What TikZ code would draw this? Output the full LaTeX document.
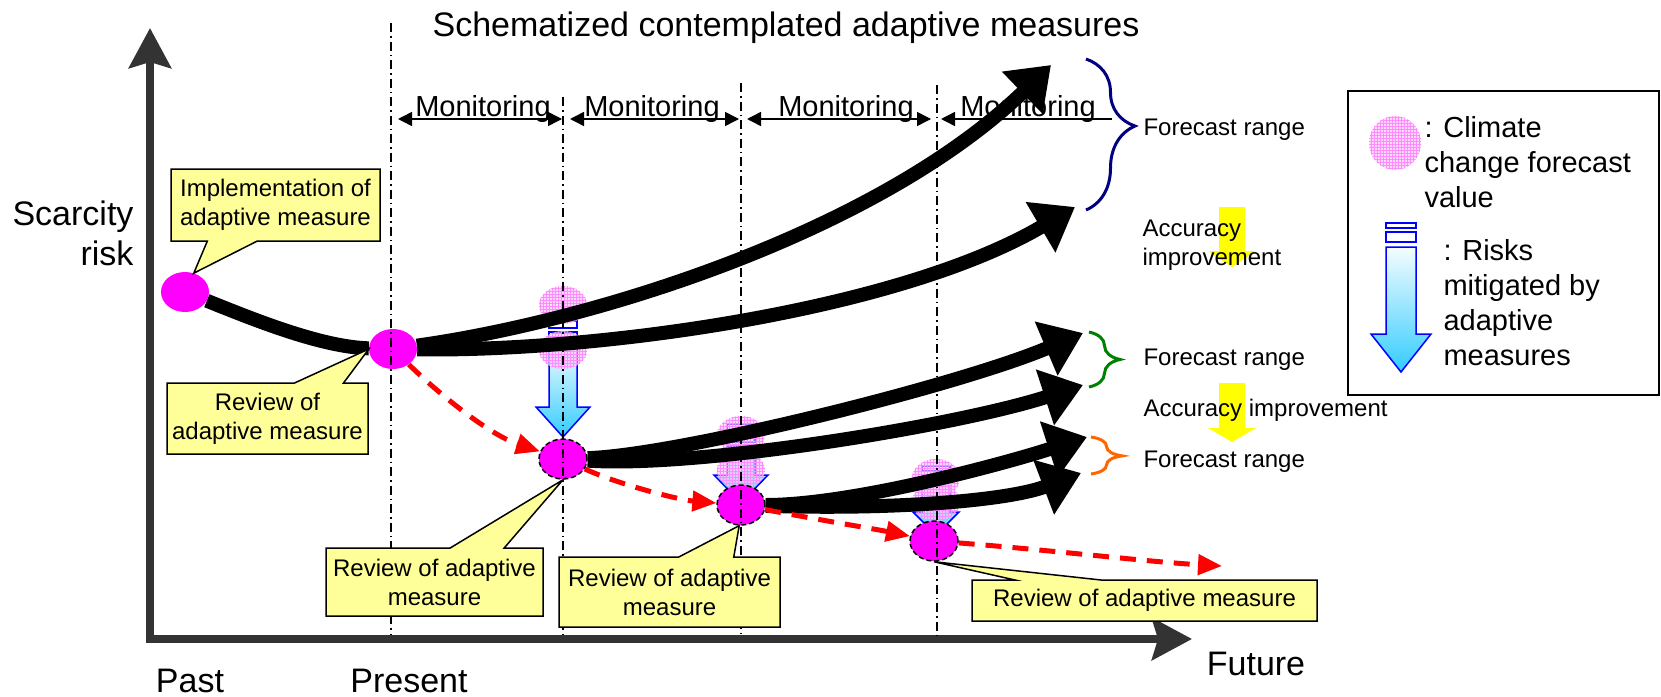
\documentclass[tikz,border=0pt]{standalone}
\usepackage{fontspec}
\setmainfont{Liberation Sans}
\usetikzlibrary{arrows.meta,shapes.geometric,shapes.callouts,decorations.pathreplacing,backgrounds,patterns}

\definecolor{callyellow}{HTML}{FFFF99}
\definecolor{accyellow}{HTML}{FFFF00}
\definecolor{axisgray}{HTML}{333333}
\definecolor{riskblue}{HTML}{0000FF}
\definecolor{riskcyan}{HTML}{33CCFF}
\definecolor{measurepink}{HTML}{FF00FF}
\definecolor{forecastpink}{HTML}{FFC2FF}
\definecolor{bracenavy}{HTML}{000080}
\definecolor{bracegreen}{HTML}{008000}
\definecolor{braceorange}{HTML}{FF6600}

\tikzset{montip/.tip={Triangle[length=14pt,width=14pt]}}

\begin{document}
\begin{tikzpicture}[x=1pt,y=-1pt,
	bigtext/.style={font=\fontsize{34}{40}\selectfont},
	montext/.style={font=\fontsize{29}{35}\selectfont},
	smalltext/.style={font=\fontsize{24}{29}\selectfont},
	legtext/.style={font=\fontsize{29}{35}\selectfont, align=left},
	axisline/.style={line width=8, draw=axisgray, {Stealth[length=40pt,width=42pt,inset=6pt]}-{Stealth[length=40pt,width=42pt,inset=6pt]}},
	period/.style={line width=1.2, dash pattern=on 9pt off 4pt on 1.5pt off 4pt},
	monline/.style={line width=1.5},
	trend/.style={line width=14, -{Triangle[length=40pt,width=56pt]}},
	reviewpath/.style={line width=5, red, dash pattern=on 16pt off 11pt, -{Triangle[length=24pt,width=20pt]}},
	measure/.style={ellipse, fill=measurepink, minimum width=48, minimum height=40, inner sep=0},
	review/.style={measure, draw=black, dash pattern=on 5pt off 3pt, line width=1.5},
	forecast/.style={ellipse, fill=forecastpink, fill opacity=0.6, postaction={pattern=grid, pattern color=measurepink!45}, minimum width=48, minimum height=38, inner sep=0},
	risk/.style={draw=riskblue, line width=1.5},
	callbox/.style={rectangle callout, draw=black, line width=1.5, fill=callyellow, smalltext, align=center, inner sep=0},
	rangebrace/.style={line width=3, decorate},
	]
	\useasboundingbox (0,0) rectangle (1661,696);
	%\draw[help lines] (0,0) grid[step=50] (1661,696);

	% measures
	\node[measure] (A) at (185,292) {};
	\node[measure] (B) at (393,349) {};
	\node[review] (C) at (563,459) {};
	\node[review] (D) at (741,505) {};
	\node[review] (E) at (934,541) {};

	\coordinate (origin) at (150,639);
	\coordinate (ytop) at (150,28);
	\coordinate (xend) at (1192,639);
	\coordinate (b1) at (1051,65);
	\coordinate (b2) at (1075,207);
	\coordinate (c1) at (1083,333);
	\coordinate (c2) at (1083,385);
	\coordinate (d1) at (1087,437);
	\coordinate (d2) at (1081,473);
	\coordinate (fut) at (1222,566);

	\begin{scope}[on background layer]
	% axes
	\draw[axisline] (ytop) -- (origin) -- (xend);

	% monitoring periods
	\foreach \a/\b/\m in {398/562/483,570/739/652,747/931/846}{
		\draw[monline, {montip}-{montip}] (\a,119) -- (\b,119);
		\node[montext, anchor=base] at (\m,116) {Monitoring};
	}
	\draw[monline, {montip}-] (941,119) -- (1112,119);
	\node[montext, anchor=base] (mon4) at (1028,116) {Monitoring};

	% risks mitigated (blue arrows)
	\foreach \x/\sa/\sb/\ra/\rb/\st/\hy/\ty/\w/\h in {563/321/328/332/340/344/407/437/14/27,741/424/430/434/442/446/475/503/14/27,936/466/471/475/482/486/512/535/14/23,1401/223/228/232/242/247/334/372/15/30}{
		\draw[risk] (\x-\w,\sa) rectangle (\x+\w,\sb);
		\draw[risk] (\x-\w,\ra) rectangle (\x+\w,\rb);
		\draw[risk, top color=riskcyan!5, bottom color=riskcyan] (\x-\w,\st) -- (\x+\w,\st) -- (\x+\w,\hy) -- (\x+\h,\hy)
			-- (\x,\ty) -- (\x-\h,\hy) -- (\x-\w,\hy) -- cycle;
	}

	% forecast values
	\node[forecast] (fc1a) at (563,305) {};
	\node[forecast] (fc1b) at (563,350) {};
	\node[forecast] (fc2a) at (741,435) {};
	\node[forecast] (fc2b) at (741,470) {};
	\node[forecast] (fc3a) at (936,478) {};
	\node[forecast] (fc3b) at (936,502) {};
	\node[forecast, minimum width=52, minimum height=54] (legpink) at (1395,143) {};

	% scenarios
	\draw[line width=14] (A) .. controls (250,318) and (320,347) .. (B);
	\draw[trend] (B) .. controls (600,320) and (880,230) .. (b1);
	\draw[trend] (B) .. controls (600,352) and (900,310) .. (b2);
	\draw[trend] (C) .. controls (680,455) and (960,385) .. (c1);
	\draw[trend] (C) .. controls (700,468) and (960,425) .. (c2);
	\draw[trend] (D) .. controls (850,505) and (1000,465) .. (d1);
	\draw[trend] (D) .. controls (900,510) and (1010,500) .. (d2);

	\draw[reviewpath] (B) .. controls (440,395) and (490,435) .. (C);
	\draw[reviewpath] (C) .. controls (620,485) and (680,500) .. (D);
	\draw[reviewpath] (D) .. controls (820,520) and (880,530) .. (E);
	\draw[reviewpath] (E) .. controls (1050,550) and (1150,562) .. (fut);
	\end{scope}

	% time lines
	\foreach \x/\t in {391/23,563/97,741/83,937/85}
		\draw[period] (\x,\t) -- (\x,635);

	\node[bigtext, anchor=base east, align=right] (ylabel) at (137,265) {Scarcity\\risk};
	\node[bigtext, anchor=base] (past) at (190,692) {Past};
	\node[bigtext, anchor=base] (present) at (409,692) {Present};
	\node[bigtext, anchor=base] (future) at (1256,675) {Future};
	\node[bigtext, anchor=base] (title) at (786,36) {Schematized contemplated adaptive measures};

	% callouts
	\node[callbox, minimum width=209, minimum height=72, callout pointer width=50, callout absolute pointer={(A.65)}] (impl) at (275.5,205) {Implementation of\\adaptive measure};
	\node[callbox, minimum width=201, minimum height=71, callout pointer width=49, callout absolute pointer={(B.west)}] (rev1) at (267.5,418.5) {Review of\\adaptive measure};
	\node[callbox, minimum width=217, minimum height=68, callout pointer width=54, callout absolute pointer={(C.south)}] (rev2) at (434.5,582) {Review of adaptive\\measure};
	\node[callbox, minimum width=221, minimum height=70, callout pointer width=55, callout absolute pointer={(D.265)}] (rev3) at (669.5,592) {Review of adaptive\\measure};
	\node[callbox, minimum width=345, minimum height=41, callout pointer width=86, callout absolute pointer={(E.south)}] (rev4) at (1144.5,600.5) {Review of adaptive measure};

	% forecast ranges
	\draw[rangebrace, bracenavy, decoration={brace, amplitude=49pt, aspect=0.444}] (1086,59) -- (1086,210);
	\draw[rangebrace, bracegreen, decoration={brace, amplitude=31pt, aspect=0.5}] (1089,332) -- (1089,387);
	\draw[rangebrace, braceorange, decoration={brace, amplitude=31pt, aspect=0.51}] (1091,437) -- (1091,474);
	\node[smalltext, anchor=base west] (fr1) at (1140,135) {Forecast range};
	\node[smalltext, anchor=base west] (fr2) at (1140,365) {Forecast range};
	\node[smalltext, anchor=base west] (fr3) at (1140,467) {Forecast range};

	% accuracy improvement
	\fill[accyellow] (1219,207) -- (1245,207) -- (1245,251) -- (1256,251) -- (1232,267) -- (1208,251) -- (1219,251) -- cycle;
	\fill[accyellow] (1219,383) -- (1245,383) -- (1245,428) -- (1256,428) -- (1232,442) -- (1208,428) -- (1219,428) -- cycle;
	\node[smalltext, anchor=base west, align=left] (acc1) at (1139,265) {Accuracy\\improvement};
	\node[smalltext, anchor=base west] (acc2) at (1140,416) {Accuracy improvement};

	% legend
	\node[draw, line width=2, minimum width=311, minimum height=304, inner sep=0] (legend) at (1503.5,243) {};
	\node[legtext, anchor=base west] (climate) at (1421,207) {: Climate\\change forecast\\value};
	\node[legtext, anchor=base west] (risks) at (1440,365) {: Risks\\mitigated by\\adaptive\\measures};
\end{tikzpicture}
\end{document}
